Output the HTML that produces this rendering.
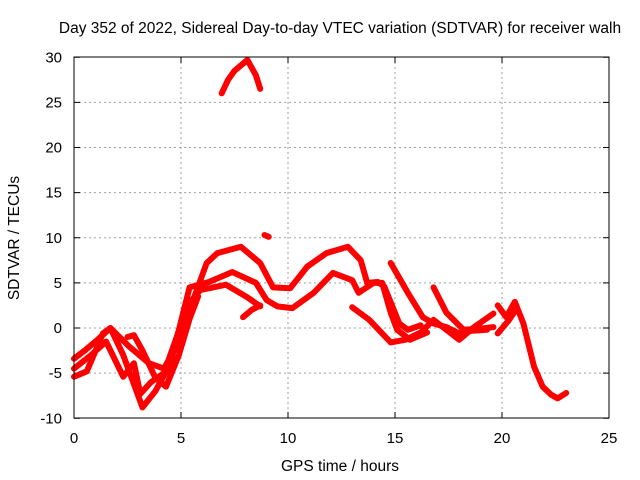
<!DOCTYPE html>
<html><head><meta charset="utf-8"><style>
body{margin:0;background:#fff}
svg{display:block;font-family:"Liberation Sans",sans-serif}
</style></head><body>
<svg id="c" width="640" height="480">
<text x="340" y="33" font-size="15.5" text-anchor="middle">Day 352 of 2022, Sidereal Day-to-day VTEC variation (SDTVAR) for receiver walh</text>
<text x="340" y="471" font-size="15.5" text-anchor="middle">GPS time / hours</text>
<text transform="translate(19,238) rotate(-90)" font-size="15.5" text-anchor="middle">SDTVAR / TECUs</text>
<g id="grid"></g><g id="marks"></g>
<rect x="74" y="57" width="535" height="361" fill="none" stroke="#000" stroke-width="1"/>
</svg>
<script>
const xTicks=[0,5,10,15,20,25];
const yTicks=[-10,-5,0,5,10,15,20,25,30];
const t1x=[0,0.5,1.1,1.7,2.6,3.5,4.2,4.8,5.4,6.2,6.7,7.8,8.7,9.3,10.1,10.9,11.8,12.8,13.4,13.7,14.2,14.5,15.2,15.6,16.2];
const t1y=[-3.4,-2.5,-1.3,0,-2.1,-3.9,-4.5,-2,2,7.2,8.3,9,7.2,4.5,4.4,6.8,8.3,9,7.5,5,5.1,4.6,0.5,-0.2,0.3];
const t2x=[0,0.6,1.35,1.7,2.3,3.2,3.8,4.5,5.4,6.3,7.4,8.5,9,9.5,10.2,11.2,12.1,13,13.3,14,14.4,14.8,15.1,15.7,16.5];
const t2y=[-5.4,-4.8,-0.6,0,-3,-8.8,-7,-4,4.5,5.1,6.2,5,3.1,2.4,2.2,3.9,6.1,5.3,3.9,5,5,1.7,-0.2,-1.3,-0.5];
const t3x=[0,0.8,1.5,2.3,2.8,3.1,3.6,4.2,4.8,5.3,5.9,7.1,8.1,8.7];
const t3y=[-4.5,-3,-1.5,-5.4,-3.9,-7.3,-6,-5,-1,2.5,4.2,4.8,3.4,2.4];
const t4x=[2.5,2.8,3.2,3.8,4.3,4.9,5.4,5.8];
const t4y=[-1,-0.8,-2.5,-5.5,-6.5,-3,1,3.5];
const t5x=[7.9,8.3,8.7];
const t5y=[1.2,2,2.5];
const t6x=[13,13.8,14.8,15.5,16.2,16.8,17.4,18,18.7,19.6];
const t6y=[2.3,0.9,-1.6,-1.3,-0.5,0.9,-0.2,-1.3,0.1,1.6];
const t7x=[14.8,15.6,16.3,16.8,17.4,18,18.6,19.3];
const t7y=[7.2,3.9,1.2,0.5,0.1,-0.6,-0.3,-0.2];
const t8x=[16.8,17.4,18.2,18.9,19.6];
const t8y=[4.5,1.7,-0.2,-0.1,0.1];
const t9x=[19.8,20.2,20.6,21,21.5,21.9,22.3,22.6,23];
const t9y=[2.5,1.2,2.9,0.5,-4.3,-6.5,-7.4,-7.8,-7.2];
const t10x=[19.8,20.3,20.7];
const t10y=[-0.6,0.8,2.2];
const t11x=[6.9,7.2,7.5,8.1,8.5,8.7];
const t11y=[26,27.5,28.5,29.7,28,26.5];
const t12x=[8.9,9.1];
const t12y=[10.3,10.1];
const X=v=>74+v*21.4, Y=v=>328-v*9.025;
const NS="http://www.w3.org/2000/svg";
const grid=document.getElementById('grid'), marks=document.getElementById('marks'), svg=document.getElementById('c');
function mk(tag,attrs,parent){const e=document.createElementNS(NS,tag);for(const k in attrs)e.setAttribute(k,attrs[k]);parent.appendChild(e);return e;}
xTicks.forEach(t=>{
 if(t>0&&t<25){const g=mk('line',{x1:X(t),x2:X(t),y1:57,y2:418,stroke:'#a0a0a0','stroke-dasharray':'2,3'},grid);
 
 }
 const tk=mk('line',{x1:X(t),x2:X(t),y1:418,y2:412,stroke:'#000'},grid);
 
 
 const tk2=mk('line',{x1:X(t),x2:X(t),y1:57,y2:63,stroke:'#000'},grid);
 
 
 const l=mk('text',{x:X(t),y:443,'font-size':15,'text-anchor':'middle'},svg);l.textContent=t;
 
 
});
yTicks.forEach(t=>{
 if(t>-10&&t<30){const g=mk('line',{x1:74,x2:609,y1:Y(t),y2:Y(t),stroke:'#a0a0a0','stroke-dasharray':'2,3'},grid);
 
 }
 const tk=mk('line',{x1:74,x2:80,y1:Y(t),y2:Y(t),stroke:'#000'},grid);
 
 
 const tk2=mk('line',{x1:603,x2:609,y1:Y(t),y2:Y(t),stroke:'#000'},grid);
 
 
 const l=mk('text',{x:62,y:Y(t)+5,'font-size':15,'text-anchor':'end'},svg);l.textContent=t;
 
 
});
const tracks=[[t1x,t1y],[t2x,t2y],[t3x,t3y],[t4x,t4y],[t5x,t5y],[t6x,t6y],[t7x,t7y],[t8x,t8y],[t9x,t9y],[t10x,t10y],[t11x,t11y],[t12x,t12y]];
tracks.forEach(([xs,ys],i)=>{
 const p=mk('polyline',{points:xs.map((x,j)=>X(x)+','+Y(ys[j])).join(' '),fill:'none',stroke:'#ff0000','stroke-width':6,'stroke-linejoin':'round','stroke-linecap':'round'},marks);
 
 
});
</script>
</body></html>
